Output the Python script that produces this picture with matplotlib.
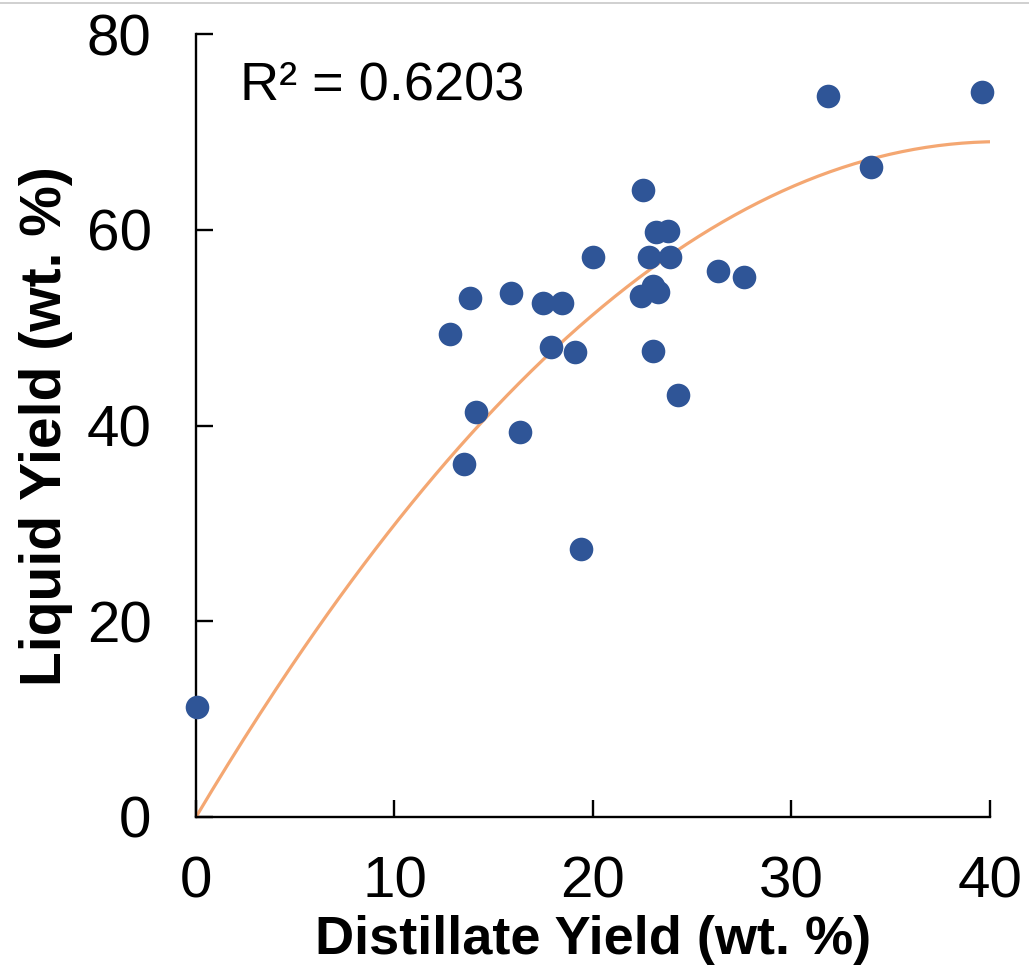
import matplotlib
matplotlib.use('Agg')
import matplotlib.pyplot as plt
from matplotlib.lines import Line2D
import numpy as np

plt.rcParams['font.family'] = ['Liberation Sans', 'DejaVu Sans']

# Data
distillate = [0.05, 12.8, 13.5, 13.8, 14.1, 15.85, 16.3, 17.5, 17.9, 18.45,
              19.1, 19.4, 20.0, 22.4, 22.5, 22.8, 23.0, 23.0, 23.2, 23.3,
              23.8, 23.9, 24.3, 26.3, 27.6, 31.85, 34.0, 39.6]
liquid = [11.2, 49.4, 36.1, 53.0, 41.4, 53.6, 39.3, 52.5, 48.0, 52.5,
          47.5, 27.4, 57.2, 53.2, 64.1, 57.2, 54.3, 47.6, 59.8, 53.7,
          59.9, 57.2, 43.1, 55.8, 55.2, 73.7, 66.4, 74.1]

x = np.array(distillate)
y = np.array(liquid)

# second-order polynomial trendline through origin (like Excel)
A = np.column_stack([x, x**2])
coef, *_ = np.linalg.lstsq(A, y, rcond=None)
xf = np.linspace(0, 40, 200)
yf = coef[0] * xf + coef[1] * xf**2

fig = plt.figure(figsize=(10.29, 9.77), dpi=100)
ax = fig.add_axes([0.1905, 0.1638, 0.7715, 0.8012])

ax.plot(xf, yf, color='#F4A772', linewidth=2.3, zorder=2)
ax.plot(x, y, 'o', color='#2F5597', markersize=17, markeredgewidth=0,
        zorder=3, clip_on=False)

ax.set_xlim(0, 40)
ax.set_ylim(0, 80)
ax.set_xticks([0, 10, 20, 30, 40])
ax.set_yticks([0, 20, 40, 60, 80])
ax.spines['top'].set_visible(False)
ax.spines['right'].set_visible(False)
for s in ['left', 'bottom']:
    ax.spines[s].set_linewidth(1.7)
ax.tick_params(axis='x', direction='in', length=12, width=1.7, labelsize=42, pad=28)
ax.tick_params(axis='y', direction='in', length=12, width=1.7, labelsize=42, pad=32)

ax.set_xlabel('Distillate Yield (wt. %)', fontsize=39, fontweight='bold', labelpad=4)
ax.set_ylabel('Liquid Yield (wt. %)', fontsize=41, fontweight='bold', labelpad=10)

ax.text(0.055, 0.935, 'R² = 0.6203', transform=ax.transAxes, fontsize=39,
        va='center', ha='left')

# thin grey border line at the very top
fig.add_artist(Line2D([0, 1], [0.997, 0.997], transform=fig.transFigure,
                      color='#C8C8C8', linewidth=1.2))

plt.savefig('out.png', dpi=100)
